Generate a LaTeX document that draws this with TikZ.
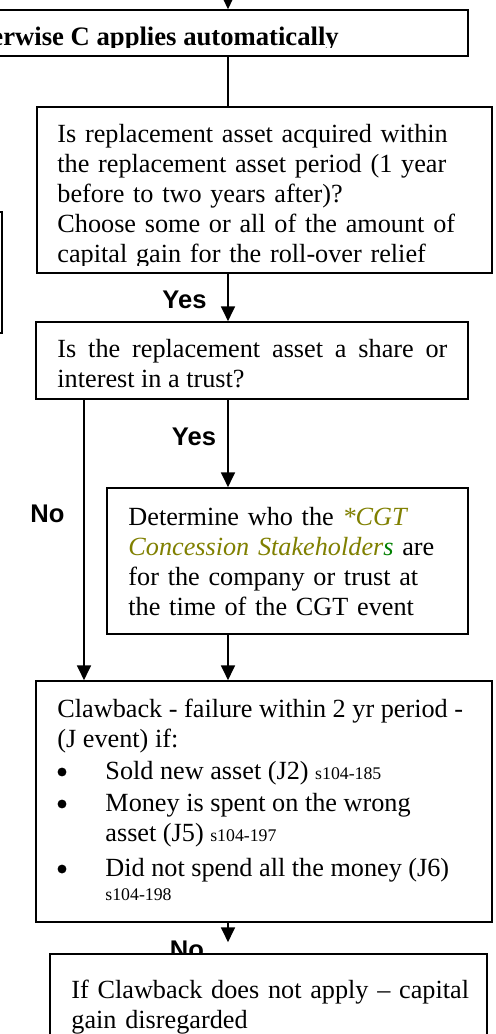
\documentclass[tikz,border=0pt]{standalone}
\usepackage{fontspec}
\setmainfont{Liberation Serif}
\setsansfont{Liberation Sans}
\usetikzlibrary{arrows.meta}
\newdimen\px \px=0.45pt
\definecolor{olivec}{RGB}{128,128,0}
\definecolor{greenc}{RGB}{0,128,0}
\begin{document}
\begin{tikzpicture}[x=0.45pt,y=-0.45pt,
  box/.style={draw, line width=0.8pt, inner sep=0pt, fill=white},
  txt/.style={anchor=base west, inner sep=0pt, font=\fontsize{11.8}{13.5}\selectfont, align=left},
  sm/.style={anchor=base west, inner sep=0pt, font=\fontsize{11.8}{13.5}\selectfont},
  bul/.style={circle, fill, inner sep=0pt, minimum size=4pt},
  lbl/.style={anchor=base, inner sep=0pt, font=\sffamily\bfseries\fontsize{11.5}{13}\selectfont},
  arr/.style={line width=0.7pt, -{Triangle[width=6.3pt,length=6.6pt]}},
  conn/.style={line width=0.7pt}]
\clip (0,0) rectangle (495,1034);
\fill[white] (0,0) rectangle (495,1034);
\coordinate (spine) at (228,0);
\coordinate (nox) at (84,0);
\coordinate (topin) at (228,-20);
% boxes
\node[box, minimum width=498\px, minimum height=46\px] (b1) at (219,33) {};
\node[box, minimum width=60\px, minimum height=121\px] (bl) at (-28,272.5) {};
\node[box, minimum width=455\px, minimum height=166\px] (b2) at (264.5,190) {};
\node[box, minimum width=432\px, minimum height=77\px] (b3) at (252,360.5) {};
\node[box, minimum width=361\px, minimum height=146\px] (b4) at (287.5,561) {};
\node[box, minimum width=456\px, minimum height=241\px] (b5) at (264,801.5) {};
% connectors
\draw[arr] (topin) -- (spine |- b1.north);
\draw[conn] (spine |- b1.south) -- (spine |- b2.north);
\draw[arr] (spine |- b2.south) -- (spine |- b3.north);
\draw[arr] (spine |- b3.south) -- (spine |- b4.north);
\draw[arr] (spine |- b4.south) -- (spine |- b5.north);
\draw[arr] (nox |- b3.south) -- (nox |- b5.north);
% labels
\node[lbl] (yes1) at (184.5,308) {Yes};
\node[lbl] (yes2) at (194,445) {Yes};
\node[lbl] (no1) at (47.5,522) {No};
\node[lbl] (no2) at (187,958) {No};
% last box (covers part of the label)
\node[box, minimum width=437\px, minimum height=106\px] (b6) at (268.5,1007) {};
\draw[arr, shorten >=11\px] (spine |- b5.south) -- (spine |- b6.north);
% texts
\begin{scope}
\clip (-50,15) rectangle (480,47.5);
\node[anchor=base west, inner sep=0pt, font=\bfseries\fontsize{12}{13.5}\selectfont] (t1) at (-9,45) {erwise C applies automatically};
\end{scope}
\begin{scope}
\clip (0,110) rectangle (495,265.5);
\node[txt, text width=430\px] (t2) at (57,142) {Is replacement asset acquired within\\the replacement asset period (1 year\\before to two years after)?\\Choose some or all of the amount of\\capital gain for the roll-over relief};
\end{scope}
\node[txt, text width=390\px, align=justify] (t3) at (57,357) {Is the replacement asset a share or\linebreak interest in a trust?};
\node[txt, text width=330\px] (t4) at (128,525) {Determine who the \textcolor{olivec}{\itshape *CGT}\\\textcolor{olivec}{\itshape Concession Stakeholder}\textcolor{greenc}{\itshape s} are\\for the company or trust at\\the time of the CGT event};
\node[sm] (t5a) at (57,717) {Clawback - failure within 2 yr period -};
\node[sm] (t5b) at (57,747) {(J event) if:};
\node[bul] (bu1) at (62,772) {};
\node[sm] (t5c) at (105,779) {Sold new asset (J2) {\fontsize{8}{9}\selectfont s104-185}};
\node[bul] (bu2) at (62,804) {};
\node[sm] (t5d) at (105,811) {Money is spent on the wrong};
\node[sm] (t5e) at (105,841) {asset (J5) {\fontsize{8}{9}\selectfont s104-197}};
\node[bul] (bu3) at (62,869) {};
\node[sm] (t5f) at (105,876) {Did not spend all the money (J6)};
\node[sm, font=\fontsize{8}{9}\selectfont] (t5g) at (105,900) {s104-198};
\node[txt, text width=410\px] (t6) at (71,998) {If Clawback does not apply – capital\\gain disregarded};
\end{tikzpicture}
\end{document}
